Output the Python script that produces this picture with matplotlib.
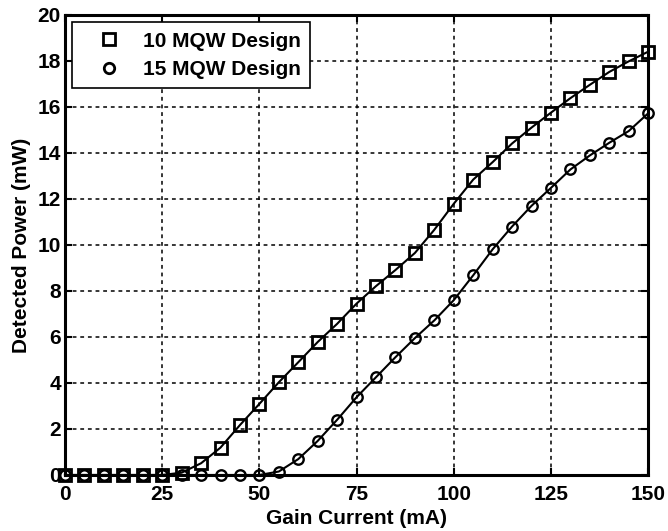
import matplotlib
matplotlib.use("Agg")
import matplotlib.pyplot as plt
from matplotlib.lines import Line2D
import numpy as np

plt.rcParams['font.family'] = ['Liberation Sans', 'DejaVu Sans']
plt.rcParams['font.weight'] = 'bold'

current = list(range(0, 155, 5))
power_10mqw = [0.0, 0.0, 0.0, 0.0, 0.0, 0.0, 0.1, 0.51, 1.19, 2.17, 3.09,
               4.03, 4.9, 5.78, 6.57, 7.45, 8.21, 8.91, 9.65, 10.66, 11.79,
               12.84, 13.6, 14.41, 15.1, 15.75, 16.38, 16.96, 17.52, 17.98, 18.4]
power_15mqw = [0.0, 0.0, 0.0, 0.0, 0.0, 0.0, 0.0, 0.0, 0.0, 0.0, 0.0,
               0.15, 0.69, 1.48, 2.4, 3.38, 4.25, 5.12, 5.95, 6.72, 7.6,
               8.68, 9.81, 10.8, 11.7, 12.48, 13.28, 13.89, 14.44, 14.95, 15.72]
labels = ['10 MQW Design', '15 MQW Design']
xticks = [0, 25, 50, 75, 100, 125, 150]
yticks = list(range(0, 22, 2))

FS = 15

fig = plt.figure(figsize=(6.68, 5.31), dpi=100)
ax = fig.add_axes([0.0973, 0.1055, 0.873, 0.8665])

ax.plot(current, power_10mqw, color='black', lw=1.5, marker='s', ms=9,
        mfc='none', mec='black', mew=2.0, clip_on=False, zorder=3)
ax.plot(current, power_15mqw, color='black', lw=1.5, marker='o', ms=7.5,
        mfc='none', mec='black', mew=1.7, clip_on=False, zorder=3)

ax.set_xlim(0, 150)
ax.set_ylim(0, 20)
ax.set_xticks(xticks)
ax.set_yticks(yticks)
ax.grid(True, color='black', linestyle=(0, (2.5, 2.5)), linewidth=1.1)
ax.tick_params(direction='in', length=5, width=1.5, top=True, right=True,
               labelsize=FS)
ax.tick_params(axis='x', pad=7)
ax.tick_params(axis='y', pad=3)
for lab in ax.get_xticklabels() + ax.get_yticklabels():
    lab.set_fontweight('bold')
for s in ax.spines.values():
    s.set_linewidth(2.2)

ax.set_xlabel('Gain Current (mA)', fontsize=FS, fontweight='bold', labelpad=4)
ax.set_ylabel('Detected Power (mW)', fontsize=FS, fontweight='bold', labelpad=5)

handles = [Line2D([], [], linestyle='none', marker='s', ms=9, mfc='none',
                  mec='black', mew=2.0),
           Line2D([], [], linestyle='none', marker='o', ms=7.5, mfc='none',
                  mec='black', mew=2.0)]
leg = ax.legend(handles, labels, loc='upper left', fontsize=FS, frameon=True,
                fancybox=False, edgecolor='black', framealpha=1,
                borderaxespad=0.35, handletextpad=0.3, labelspacing=0.45,
                borderpad=0.45, handlelength=2.65)
leg.get_frame().set_linewidth(1.2)
for t in leg.get_texts():
    t.set_fontweight('bold')

fig.savefig('out.png', dpi=100)
